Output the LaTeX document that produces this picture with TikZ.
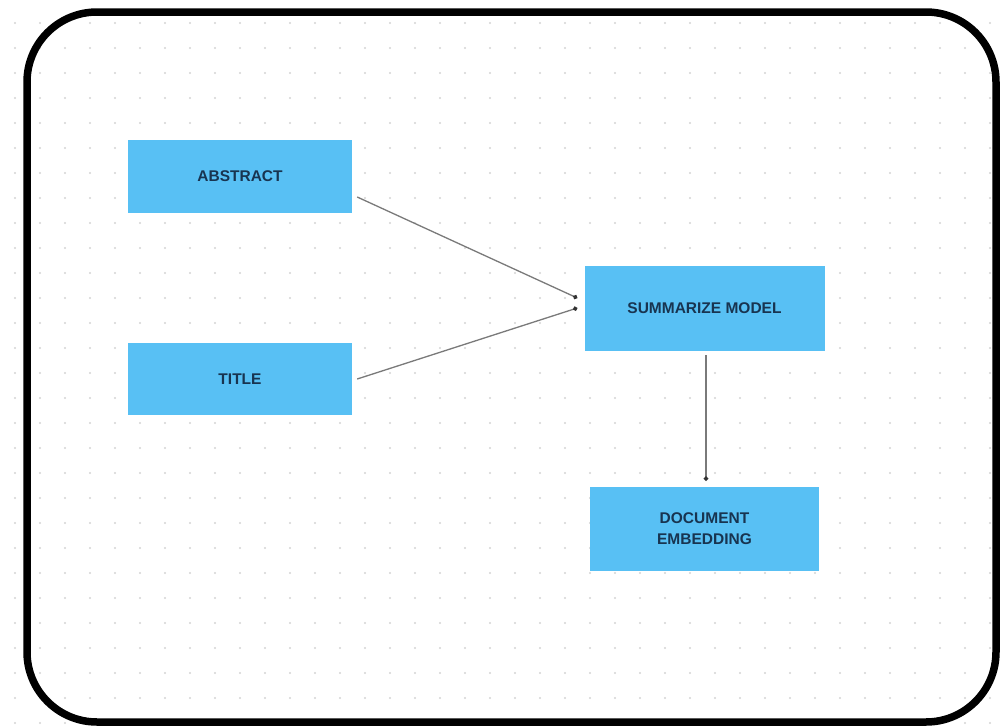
\documentclass[tikz,border=0pt]{standalone}
\usepackage{fontspec}
\setmainfont{Liberation Sans}
\usetikzlibrary{arrows.meta,calc}
\definecolor{boxblue}{HTML}{58C0F4}
\definecolor{txtnavy}{HTML}{183450}
\definecolor{dotgray}{HTML}{D4D4D4}
\definecolor{linegray}{HTML}{7A7A7A}
\tikzset{
  box/.style={draw=none,fill=boxblue,inner sep=0pt,align=center,
    font=\fontsize{15.5}{21}\selectfont\bfseries,text=txtnavy},
  conn/.style={draw=linegray,line width=1.3pt,-{Circle[length=4.5pt,color=black!80]}},
}
\begin{document}
\begin{tikzpicture}[x=1pt,y=-1pt]
\useasboundingbox (0,0) rectangle (1002,728);
\fill[white] (0,0) rectangle (1002,728);
% dotted grid
\foreach \i in {0,...,39}{
  \foreach \j in {0,...,28}{
    \fill[dotgray] (15+25*\i,23+25*\j) circle (1.1);
  }
}
% frame
\draw[line width=7.5pt,rounded corners=70pt] (27,12) rectangle (996,722);
% boxes
\node[box,minimum width=224pt,minimum height=73pt] (abs) at (240,176.5) {ABSTRACT};
\node[box,minimum width=224pt,minimum height=72pt] (tit) at (240,379) {TITLE};
\node[box,minimum width=240pt,minimum height=85pt] (sum) at (704.5,308.5) {SUMMARIZE MODEL};
\node[box,minimum width=229pt,minimum height=84pt] (doc) at (704.5,529) {DOCUMENT\\EMBEDDING};
% connector end points
\coordinate (absout) at ($(abs.east)+(5,20.5)$);
\coordinate (titout) at ($(tit.east)+(5,0)$);
\coordinate (sumin1) at ($(sum.west)+(-7,-10.5)$);
\coordinate (sumin2) at ($(sum.west)+(-7,-0.5)$);
\coordinate (sumout) at ($(sum.south)+(1.5,4)$);
\coordinate (docin) at ($(doc.north)+(1.5,-6)$);
% connectors
\draw[conn] (absout) -- (sumin1);
\draw[conn] (titout) -- (sumin2);
\draw[conn] (sumout) -- (docin);
\end{tikzpicture}
\end{document}
